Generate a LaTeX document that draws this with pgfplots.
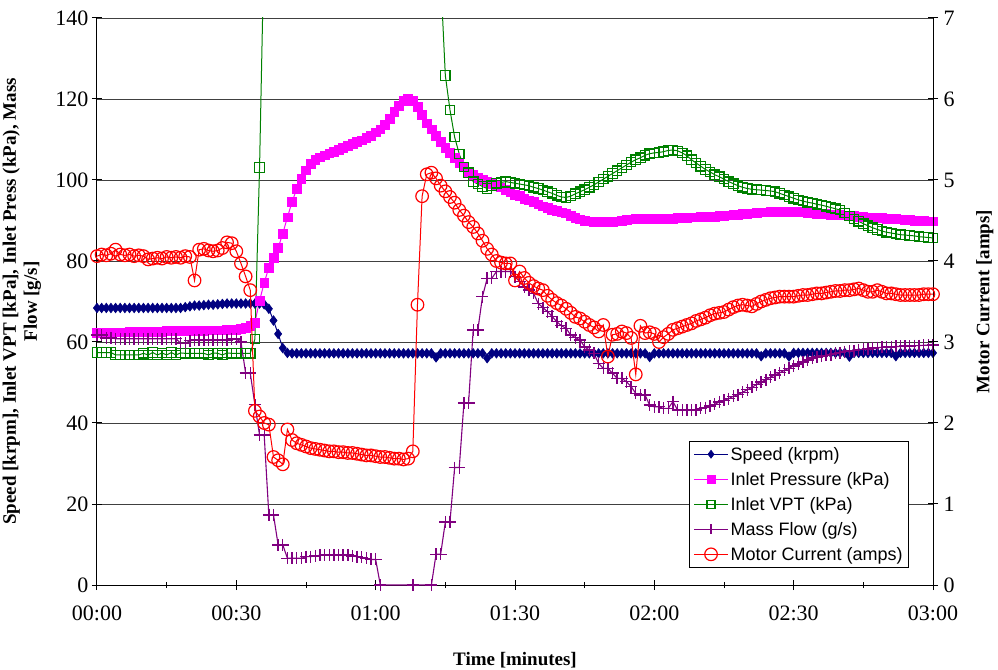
\documentclass[border=0pt]{standalone}
\usepackage{fontspec}
\setmainfont{Liberation Serif}
\newfontfamily\arial{Liberation Sans}
\usepackage{pgfplots}
\usepackage{pgfplotstable}
\pgfplotsset{compat=1.18}
\definecolor{navyc}{RGB}{0,0,128}
\definecolor{magc}{RGB}{255,0,255}
\definecolor{greenc}{RGB}{0,128,0}
\definecolor{purplec}{RGB}{128,0,128}
\definecolor{redc}{RGB}{255,0,0}
\pgfplotstableread{
t s p v m c
0 68.4 62.3 57.4 61.7 4.06
1 68.4 62.3 57.4 61.7 4.08
2 68.4 62.3 57.4 61.0 4.07
3 68.4 62.4 57.4 61.0 4.09
4 68.4 62.4 56.8 60.8 4.14
5 68.4 62.4 56.8 60.8 4.08
6 68.4 62.4 56.8 60.8 4.07
7 68.4 62.5 56.8 60.8 4.08
8 68.4 62.5 56.8 60.8 4.06
9 68.4 62.5 56.8 60.8 4.07
10 68.4 62.5 57.2 60.8 4.06
11 68.4 62.6 56.8 60.8 4.02
12 68.4 62.6 57.4 60.8 4.03
13 68.4 62.6 56.8 60.8 4.04
14 68.4 62.6 57.3 60.8 4.03
15 68.4 62.7 56.8 60.8 4.05
16 68.4 62.7 57.4 60.8 4.04
17 68.4 62.7 56.8 60.8 4.05
18 68.4 62.7 57.3 59.7 4.04
19 68.6 62.8 57.2 59.7 4.06
20 68.8 62.8 57.2 60.3 4.05
21 69.0 62.8 57.2 60.5 3.76
22 69.0 62.8 57.2 60.5 4.14
23 69.1 62.8 57.2 60.5 4.15
24 69.2 62.9 56.8 60.5 4.13
25 69.2 62.9 57.3 60.5 4.12
26 69.3 62.9 57.2 60.5 4.13
27 69.4 62.9 56.8 60.5 4.16
28 69.5 63.0 57.3 60.5 4.23
29 69.5 63.0 57.2 60.8 4.22
30 69.5 63.0 57.2 60.7 4.12
31 69.5 63.2 57.2 60.0 3.97
32 69.5 63.5 57.2 52.3 3.81
33 69.5 64.0 57.2 52.3 3.64
34 69.5 64.8 60.7 44.5 2.15
35 69.5 70.2 103.1 37.0 2.08
36 69.3 74.6 160 37.0 2.00
37 68.2 78.4 500 17.3 1.98
38 65.3 80.8 500 17.3 1.58
39 62.0 83.2 500 9.9 1.54
40 58.5 86.8 500 9.9 1.49
41 57.3 90.8 500 6.6 1.92
42 57.2 94.6 500 6.6 1.79
43 57.2 97.8 500 6.6 1.75
44 57.2 100.3 500 6.6 1.73
45 57.2 102.4 500 7.0 1.71
46 57.2 104.0 500 7.0 1.69
47 57.2 105.0 500 7.2 1.68
48 57.2 105.6 500 7.3 1.67
49 57.2 106.1 500 7.4 1.66
50 57.2 106.6 500 7.4 1.65
51 57.2 107.0 500 7.4 1.65
52 57.2 107.4 500 7.4 1.64
53 57.2 107.9 500 7.4 1.64
54 57.2 108.4 500 7.4 1.63
55 57.2 108.9 500 7.2 1.63
56 57.2 109.4 500 7.0 1.62
57 57.2 109.8 500 6.8 1.61
58 57.2 110.4 500 6.6 1.60
59 57.2 111.0 500 6.3 1.60
60 57.2 111.8 500 6.3 1.59
61 57.2 112.5 500 0 1.58
62 57.2 113.6 500 nan 1.58
63 57.2 115.2 500 nan 1.57
64 57.2 116.8 500 nan 1.56
65 57.2 118.3 500 nan 1.56
66 57.2 119.5 500 nan 1.55
67 57.2 120.0 500 nan 1.56
68 57.2 119.6 500 0 1.65
69 57.2 118.0 500 nan 3.46
70 57.2 116.0 500 nan 4.80
71 57.2 114.0 500 nan 5.07
72 57.2 112.5 500 0 5.09
73 56.2 111.0 400 7.6 5.02
74 57.2 109.5 150 7.6 4.93
75 57.2 108.0 125.8 15.6 4.86
76 57.2 106.8 117.3 15.6 4.79
77 57.2 105.5 110.6 29.0 4.72
78 57.2 104.3 106.4 29.0 4.63
79 57.2 103.2 103.2 44.9 4.56
80 57.2 102.1 101.8 44.9 4.48
81 57.2 101.2 99.6 63.0 4.42
82 57.2 100.6 99.0 63.0 4.34
83 57.2 100.0 98.4 71.2 4.25
84 56.0 99.6 97.9 75.7 4.15
85 57.2 99.1 98.6 75.7 4.08
86 57.2 98.6 99.2 77.4 4.00
87 57.2 98.2 99.4 77.4 3.98
88 57.2 97.6 99.6 77.4 3.97
89 57.2 97.0 99.4 77.4 3.97
90 57.2 96.4 99.2 76.1 3.76
91 57.2 96.0 99.0 74.9 3.87
92 57.2 95.4 98.8 73.6 3.79
93 57.2 95.0 98.6 72.8 3.73
94 57.2 94.6 98.2 72.0 3.69
95 57.2 94.0 97.9 69.5 3.66
96 57.2 93.5 97.5 68.5 3.64
97 57.2 93.1 97.1 67.5 3.57
98 57.2 92.6 96.7 66.3 3.52
99 57.2 92.3 96.2 65.0 3.48
100 57.2 92.0 95.8 64.0 3.45
101 57.2 91.8 95.7 63.4 3.41
102 57.2 91.2 96.0 61.7 3.36
103 57.2 90.7 96.6 61.1 3.31
104 57.2 90.3 97.1 60.5 3.29
105 57.2 90.0 97.6 58.8 3.25
106 57.2 89.8 98.2 58.0 3.21
107 57.2 89.7 98.8 57.2 3.18
108 57.2 89.7 99.5 54.7 3.13
109 57.2 89.7 100.2 53.5 3.21
110 57.2 89.7 100.9 53.5 2.82
111 57.2 89.7 101.6 52.3 3.09
112 57.2 89.8 102.3 51.0 3.10
113 57.2 90.0 103.0 51.0 3.13
114 57.2 90.2 103.7 50.2 3.11
115 57.2 90.3 104.4 49.0 3.05
116 57.2 90.4 105.0 47.3 2.60
117 57.2 90.4 105.5 46.9 3.20
118 57.2 90.4 106.1 46.9 3.11
119 56.3 90.5 106.5 44.4 3.12
120 57.2 90.5 106.7 44.0 3.10
121 57.2 90.5 106.8 44.0 3.00
122 57.2 90.5 107.0 43.6 3.06
123 57.2 90.5 107.3 43.6 3.10
124 57.2 90.5 107.4 45.3 3.15
125 57.2 90.6 107.2 43.2 3.17
126 57.2 90.6 106.7 43.2 3.19
127 57.2 90.7 106.0 43.2 3.21
128 57.2 90.8 105.0 43.2 3.23
129 57.2 90.8 104.2 43.2 3.26
130 57.2 90.9 103.4 43.6 3.28
131 57.2 90.9 102.6 43.8 3.30
132 57.2 91.0 102.0 44.2 3.33
133 57.2 91.0 101.3 44.6 3.35
134 57.2 91.1 100.8 45.2 3.36
135 57.2 91.2 100.2 45.6 3.37
136 57.2 91.3 99.6 46.0 3.40
137 57.2 91.4 99.1 46.6 3.43
138 57.2 91.5 98.6 47.0 3.45
139 57.2 91.6 98.2 47.6 3.46
140 57.2 91.7 97.9 48.2 3.45
141 57.2 91.8 97.7 48.8 3.44
142 57.2 91.9 97.6 49.5 3.47
143 56.5 92.0 97.5 50.1 3.50
144 57.2 92.0 97.4 50.7 3.52
145 57.2 92.1 97.3 51.3 3.54
146 57.2 92.1 97.1 51.9 3.55
147 57.2 92.2 96.7 52.4 3.56
148 57.2 92.2 96.3 53.0 3.56
149 56.4 92.2 95.9 53.5 3.56
150 57.3 92.2 95.5 54.1 3.56
151 57.3 92.1 95.1 54.6 3.57
152 57.3 92.0 94.8 55.1 3.58
153 57.3 91.9 94.5 55.6 3.58
154 57.3 91.8 94.3 56.0 3.59
155 57.3 91.7 94.0 56.3 3.60
156 57.3 91.6 93.8 56.5 3.60
157 57.3 91.6 93.5 56.7 3.61
158 57.3 91.5 93.2 56.9 3.62
159 57.3 91.5 92.9 57.2 3.63
160 57.3 91.4 92.6 57.4 3.63
161 57.3 91.3 91.9 57.6 3.64
162 56.4 91.2 91.1 57.8 3.64
163 57.3 91.1 90.4 57.9 3.65
164 57.3 91.0 89.8 58.1 3.66
165 57.3 90.9 89.2 58.2 3.64
166 57.3 90.8 88.7 58.3 3.62
167 57.3 90.7 88.2 58.5 3.62
168 57.3 90.7 87.8 58.6 3.64
169 57.3 90.6 87.4 58.7 3.62
170 57.3 90.5 87.1 58.8 3.60
171 57.3 90.4 86.9 58.8 3.60
172 56.5 90.4 86.7 58.9 3.59
173 57.3 90.3 86.5 58.9 3.58
174 57.3 90.2 86.4 59.0 3.58
175 57.3 90.1 86.3 59.0 3.58
176 57.3 90.0 86.2 59.1 3.58
177 57.3 90.0 86.0 59.1 3.58
178 57.3 89.9 85.9 59.2 3.59
179 57.3 89.8 85.8 59.2 3.59
180 57.3 89.8 85.7 59.3 3.59
}\data

\pgfplotsset{
  common/.style={
    width=836bp, height=567bp, scale only axis,
    xmin=0, xmax=180,
    tick align=center, major tick length=10bp, minor tick length=6bp,
    axis line style={line width=1bp, black},
    tick style={line width=1bp, black},
    ticklabel style={font=\fontsize{22bp}{26bp}\selectfont},
    /pgf/number format/assume math mode=true,
    unbounded coords=discard,
  },
  speedsty/.style={color=navyc, line width=1bp, mark=diamond*, mark size=4.8bp, mark options={solid, fill=navyc, line width=0.6bp}},
  presssty/.style={color=magc, line width=1bp, mark=square*, mark size=4.4bp, mark options={solid, fill=magc, line width=0.6bp}},
  vptsty/.style={color=greenc, line width=1bp, mark=square, mark size=4.7bp, mark options={solid, line width=1.2bp}},
  flowsty/.style={color=purplec, line width=1.1bp, mark=+, mark size=6bp, mark options={solid, line width=1.4bp}},
  cursty/.style={color=redc, line width=1bp, mark=o, mark size=6.3bp, mark options={solid, line width=1.2bp}},
}

\begin{document}
\begin{tikzpicture}
\path[use as bounding box] (-97bp,-85bp) rectangle (901bp,585bp);
\begin{axis}[common,
  ymin=0, ymax=140,
  axis x line*=bottom, axis y line*=left,
  xtick={0,30,...,180},
  xticklabels={00:00,00:30,01:00,01:30,02:00,02:30,03:00},
  xticklabel style={yshift=-12bp},
  minor x tick num=1,
  ytick={0,20,...,140},
  ymajorgrids, grid style={line width=0.8bp, black!75},
  xlabel={Time [minutes]},
  xlabel style={font=\bfseries\fontsize{19bp}{22bp}\selectfont, at={(axis description cs:0.5,-0.132)}, anchor=center},
  ylabel={Speed [krpm], Inlet VPT [kPa], Inlet Press (kPa), Mass\\Flow [g/s]},
  ylabel style={align=center, font=\bfseries\fontsize{19bp}{21bp}\selectfont, at={(axis description cs:-0.0897,0.5)}, anchor=center},
]
\addplot[speedsty] table[x=t, y=s]{\data};
\addplot[presssty] table[x=t, y=p]{\data};
\addplot[vptsty] table[x=t, y=v]{\data};
\addplot[flowsty] table[x=t, y=m]{\data};
\end{axis}
\begin{axis}[common,
  ymin=0, ymax=7,
  axis y line*=right, axis x line=none,
  ytick={0,1,...,7},
  yticklabel style={xshift=2bp},
  ylabel={Motor Current [amps]},
  ylabel style={font=\bfseries\fontsize{19bp}{22bp}\selectfont, at={(axis description cs:1.062,0.5)}, anchor=center, rotate=0},
  legend style={at={(0.9713,0.030)}, anchor=south east, draw=black, line width=0.8bp, fill=white,
    font=\arial\fontsize{18bp}{21bp}\selectfont, row sep=6.5bp, inner xsep=4bp, inner ysep=4bp},
  legend cell align=left,
  legend image code/.code={\draw[mark repeat=2,mark phase=2] plot coordinates {(0bp,0bp) (17bp,0bp) (34bp,0bp)};},
]
\addlegendimage{speedsty, mark size=4bp}
\addlegendentry{Speed (krpm)}
\addlegendimage{presssty, mark size=4bp}
\addlegendentry{Inlet Pressure (kPa)}
\addlegendimage{vptsty, mark size=4bp}
\addlegendentry{Inlet VPT (kPa)}
\addlegendimage{flowsty, mark size=5bp}
\addlegendentry{Mass Flow (g/s)}
\addplot[cursty] table[x=t, y=c]{\data};
\addlegendentry{Motor Current (amps)}
\end{axis}
\end{tikzpicture}
\end{document}
